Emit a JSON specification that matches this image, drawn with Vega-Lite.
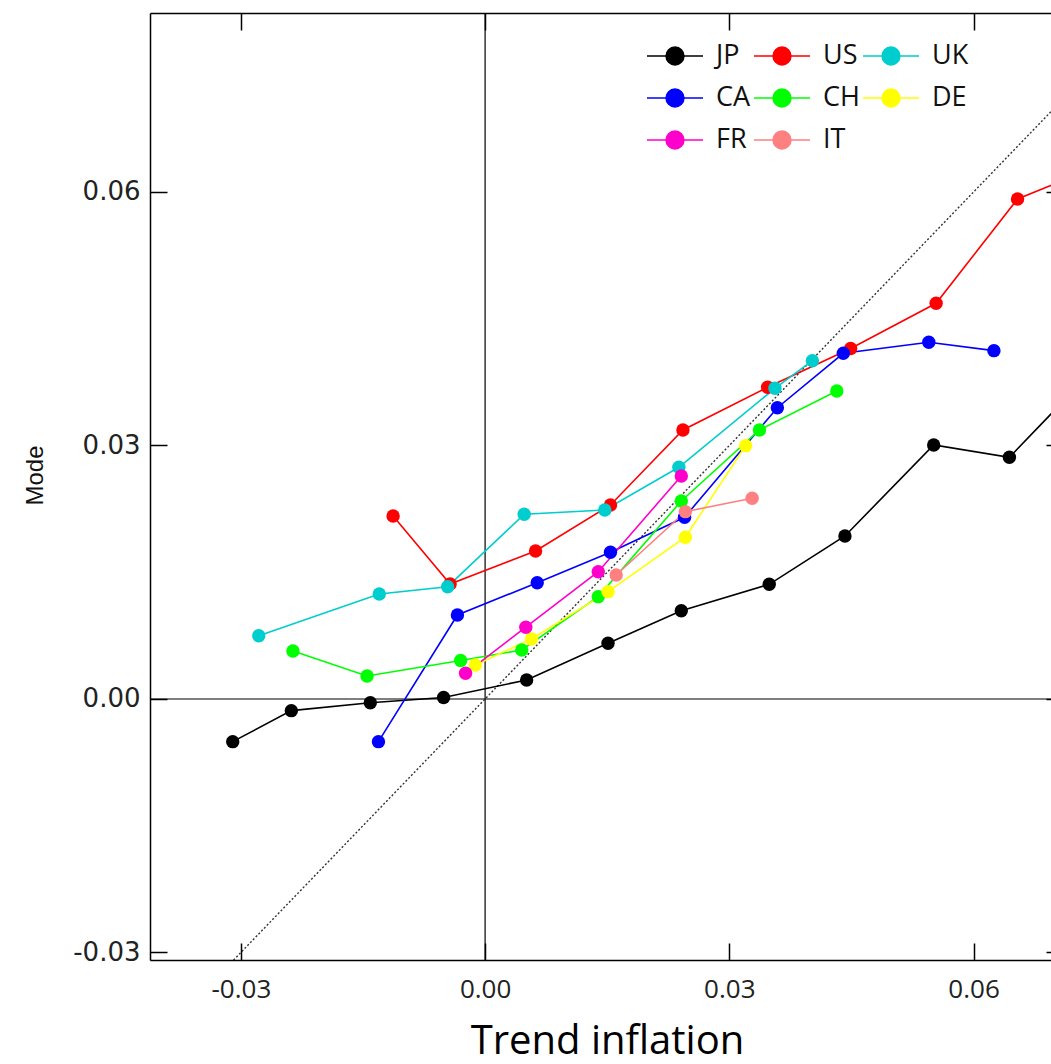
{
  "$schema": "https://vega.github.io/schema/vega-lite/v6.json",
  "width": 901,
  "height": 947,
  "autosize": {"type": "none"},
  "padding": {"left": 150, "top": 13, "right": 0, "bottom": 104},
  "background": "white",
  "config": {
    "view": {"stroke": null},
    "axis": {"grid": false, "domainColor": "#000", "tickColor": "#000", "domainWidth": 1.5, "tickWidth": 1.5, "labelFlush": false, "labelOverlap": false}
  },
  "datasets": {
    "pts": [
      {"country": "JP", "i": 1, "x": -0.0310, "y": -0.00505},
      {"country": "JP", "i": 2, "x": -0.0238, "y": -0.00138},
      {"country": "JP", "i": 3, "x": -0.0141, "y": -0.00044},
      {"country": "JP", "i": 4, "x": -0.0051, "y": 0.00018},
      {"country": "JP", "i": 5, "x": 0.0051, "y": 0.00225},
      {"country": "JP", "i": 6, "x": 0.0151, "y": 0.00659},
      {"country": "JP", "i": 7, "x": 0.0241, "y": 0.01045},
      {"country": "JP", "i": 8, "x": 0.0349, "y": 0.01357},
      {"country": "JP", "i": 9, "x": 0.0442, "y": 0.01929},
      {"country": "JP", "i": 10, "x": 0.0551, "y": 0.03006},
      {"country": "JP", "i": 11, "x": 0.0644, "y": 0.02860},
      {"country": "JP", "i": 12, "x": 0.0705, "y": 0.03472},
      {"country": "US", "i": 1, "x": -0.0113, "y": 0.02166},
      {"country": "US", "i": 2, "x": -0.0043, "y": 0.01361},
      {"country": "US", "i": 3, "x": 0.0062, "y": 0.01751},
      {"country": "US", "i": 4, "x": 0.0154, "y": 0.02296},
      {"country": "US", "i": 5, "x": 0.0243, "y": 0.03183},
      {"country": "US", "i": 6, "x": 0.0347, "y": 0.03689},
      {"country": "US", "i": 7, "x": 0.0449, "y": 0.04148},
      {"country": "US", "i": 8, "x": 0.0554, "y": 0.04683},
      {"country": "US", "i": 9, "x": 0.0654, "y": 0.05917},
      {"country": "US", "i": 10, "x": 0.0705, "y": 0.06117},
      {"country": "UK", "i": 1, "x": -0.0278, "y": 0.00749},
      {"country": "UK", "i": 2, "x": -0.0130, "y": 0.01243},
      {"country": "UK", "i": 3, "x": -0.0046, "y": 0.01329},
      {"country": "UK", "i": 4, "x": 0.0048, "y": 0.02186},
      {"country": "UK", "i": 5, "x": 0.0147, "y": 0.02237},
      {"country": "UK", "i": 6, "x": 0.0238, "y": 0.02742},
      {"country": "UK", "i": 7, "x": 0.0356, "y": 0.03677},
      {"country": "UK", "i": 8, "x": 0.0402, "y": 0.04003},
      {"country": "CA", "i": 1, "x": -0.0131, "y": -0.00505},
      {"country": "CA", "i": 2, "x": -0.0034, "y": 0.00994},
      {"country": "CA", "i": 3, "x": 0.0064, "y": 0.01376},
      {"country": "CA", "i": 4, "x": 0.0154, "y": 0.01736},
      {"country": "CA", "i": 5, "x": 0.0245, "y": 0.02150},
      {"country": "CA", "i": 6, "x": 0.0359, "y": 0.03447},
      {"country": "CA", "i": 7, "x": 0.0440, "y": 0.04091},
      {"country": "CA", "i": 8, "x": 0.0545, "y": 0.04221},
      {"country": "CA", "i": 9, "x": 0.0625, "y": 0.04122},
      {"country": "CH", "i": 1, "x": -0.0236, "y": 0.00568},
      {"country": "CH", "i": 2, "x": -0.0145, "y": 0.00272},
      {"country": "CH", "i": 3, "x": -0.0030, "y": 0.00456},
      {"country": "CH", "i": 4, "x": 0.0045, "y": 0.00580},
      {"country": "CH", "i": 5, "x": 0.0139, "y": 0.01211},
      {"country": "CH", "i": 6, "x": 0.0241, "y": 0.02343},
      {"country": "CH", "i": 7, "x": 0.0337, "y": 0.03183},
      {"country": "CH", "i": 8, "x": 0.0432, "y": 0.03645},
      {"country": "DE", "i": 1, "x": -0.0012, "y": 0.00402},
      {"country": "DE", "i": 2, "x": 0.0057, "y": 0.00710},
      {"country": "DE", "i": 3, "x": 0.0151, "y": 0.01270},
      {"country": "DE", "i": 4, "x": 0.0246, "y": 0.01914},
      {"country": "DE", "i": 5, "x": 0.0320, "y": 0.02998},
      {"country": "FR", "i": 1, "x": -0.0024, "y": 0.00304},
      {"country": "FR", "i": 2, "x": 0.0050, "y": 0.00849},
      {"country": "FR", "i": 3, "x": 0.0139, "y": 0.01506},
      {"country": "FR", "i": 4, "x": 0.0241, "y": 0.02639},
      {"country": "IT", "i": 1, "x": 0.0161, "y": 0.01467},
      {"country": "IT", "i": 2, "x": 0.0246, "y": 0.02217},
      {"country": "IT", "i": 3, "x": 0.0328, "y": 0.02375}
    ]
  },
  "resolve": {"axis": {"x": "independent", "y": "independent"}},
  "layer": [
    {
      "data": {"values": [{}]},
      "mark": {"type": "rule", "color": "#000", "strokeWidth": 1.2},
      "encoding": {
        "y": {"datum": 0, "type": "quantitative", "scale": {"domain": [-0.03089, 0.08118], "nice": false, "zero": false},
          "axis": {"orient": "right", "values": [-0.03, 0, 0.03, 0.06], "domain": false, "labels": false, "tickSize": -5, "title": null}}
      }
    },
    {
      "data": {"values": [{}]},
      "mark": {"type": "rule", "color": "#000", "strokeWidth": 1.2},
      "encoding": {
        "x": {"datum": 0, "type": "quantitative", "scale": {"domain": [-0.04116, 0.06951], "nice": false, "zero": false},
          "axis": {"orient": "top", "values": [-0.03, 0, 0.03, 0.06], "labels": false, "tickSize": -17, "title": null}}
      }
    },
    {
      "data": {"values": [{}]},
      "mark": {"type": "rule", "color": "#333", "strokeWidth": 1.4, "strokeDash": [2, 2], "clip": true},
      "encoding": {
        "x": {"datum": -0.0309, "type": "quantitative", "axis": null},
        "y": {"datum": -0.0309, "type": "quantitative", "axis": null},
        "x2": {"datum": 0.0695},
        "y2": {"datum": 0.0695}
      }
    },
    {
      "data": {"name": "pts"},
      "mark": {"type": "line", "strokeWidth": 1.6, "clip": true},
      "encoding": {
        "x": {"field": "x", "type": "quantitative",
          "axis": {"orient": "bottom", "values": [-0.03, 0, 0.03, 0.06], "labelExpr": "replace(format(datum.value,'.2f'),'\u2212','-')",
            "tickSize": -17, "labelPadding": 33, "labelFont": "Open Sans", "labelFontSize": 26, "labelColor": "#222",
            "title": "Trend inflation", "titleFont": "Open Sans", "titleFontSize": 40, "titleFontWeight": "normal", "titleColor": "#000",
            "titleX": 457, "titleY": 93, "titleBaseline": "alphabetic", "titleAlign": "center"}},
        "y": {"field": "y", "type": "quantitative",
          "axis": {"orient": "left", "values": [-0.03, 0, 0.03, 0.06], "labelExpr": "replace(format(datum.value,'.2f'),'\u2212','-')",
            "tickSize": -17, "labelPadding": 27, "labelFont": "DejaVu Sans", "labelFontSize": 26, "labelColor": "#222",
            "title": "Mode", "titleFont": "Liberation Sans", "titleFontSize": 24, "titleFontWeight": "normal", "titleColor": "#111",
            "titleX": -108, "titleY": 462, "titleAngle": 270, "titleBaseline": "alphabetic", "titleAlign": "center"}},
        "order": {"field": "i", "type": "quantitative"},
        "color": {"field": "country", "type": "nominal",
          "scale": {"domain": ["JP", "US", "UK", "CA", "CH", "DE", "FR", "IT"],
                    "range": ["#000000", "#FF0000", "#00CDCD", "#0000FF", "#00FF00", "#FFFF00", "#FF00CC", "#FF8080"]},
          "legend": {"title": null, "orient": "none", "legendX": 496, "legendY": 14, "columns": 3, "direction": "horizontal",
            "symbolType": "M-1,0H1M-0.32,0A0.32,0.32 0 1,1 0.32,0A0.32,0.32 0 1,1 -0.32,0Z", "symbolSize": 3136, "symbolStrokeWidth": 1.5,
            "labelFont": "Open Sans", "labelFontSize": 27, "labelColor": "#111", "labelOffset": 12, "columnPadding": 0, "rowPadding": -11,
            "symbolOpacity": 1, "labelLimit": 200,
            "encode": {"symbols": {"update": {"fill": {"scale": "color", "field": "value"}, "stroke": {"scale": "color", "field": "value"}, "opacity": {"value": 1}}}}}}
      }
    },
    {
      "data": {"name": "pts"},
      "mark": {"type": "point", "filled": true, "size": 180, "opacity": 1, "clip": true},
      "encoding": {
        "x": {"field": "x", "type": "quantitative", "axis": null},
        "y": {"field": "y", "type": "quantitative", "axis": null},
        "color": {"field": "country", "type": "nominal",
          "legend": {"title": null, "orient": "none", "legendX": 496, "legendY": 14, "columns": 3, "direction": "horizontal",
            "symbolType": "M-1,0H1M-0.32,0A0.32,0.32 0 1,1 0.32,0A0.32,0.32 0 1,1 -0.32,0Z", "symbolSize": 3136, "symbolStrokeWidth": 1.5,
            "labelFont": "Open Sans", "labelFontSize": 27, "labelColor": "#111", "labelOffset": 12, "columnPadding": 0, "rowPadding": -11,
            "symbolOpacity": 1, "labelLimit": 200,
            "encode": {"symbols": {"update": {"fill": {"scale": "color", "field": "value"}, "stroke": {"scale": "color", "field": "value"}, "opacity": {"value": 1}}}}}}
      }
    }
  ]
}
